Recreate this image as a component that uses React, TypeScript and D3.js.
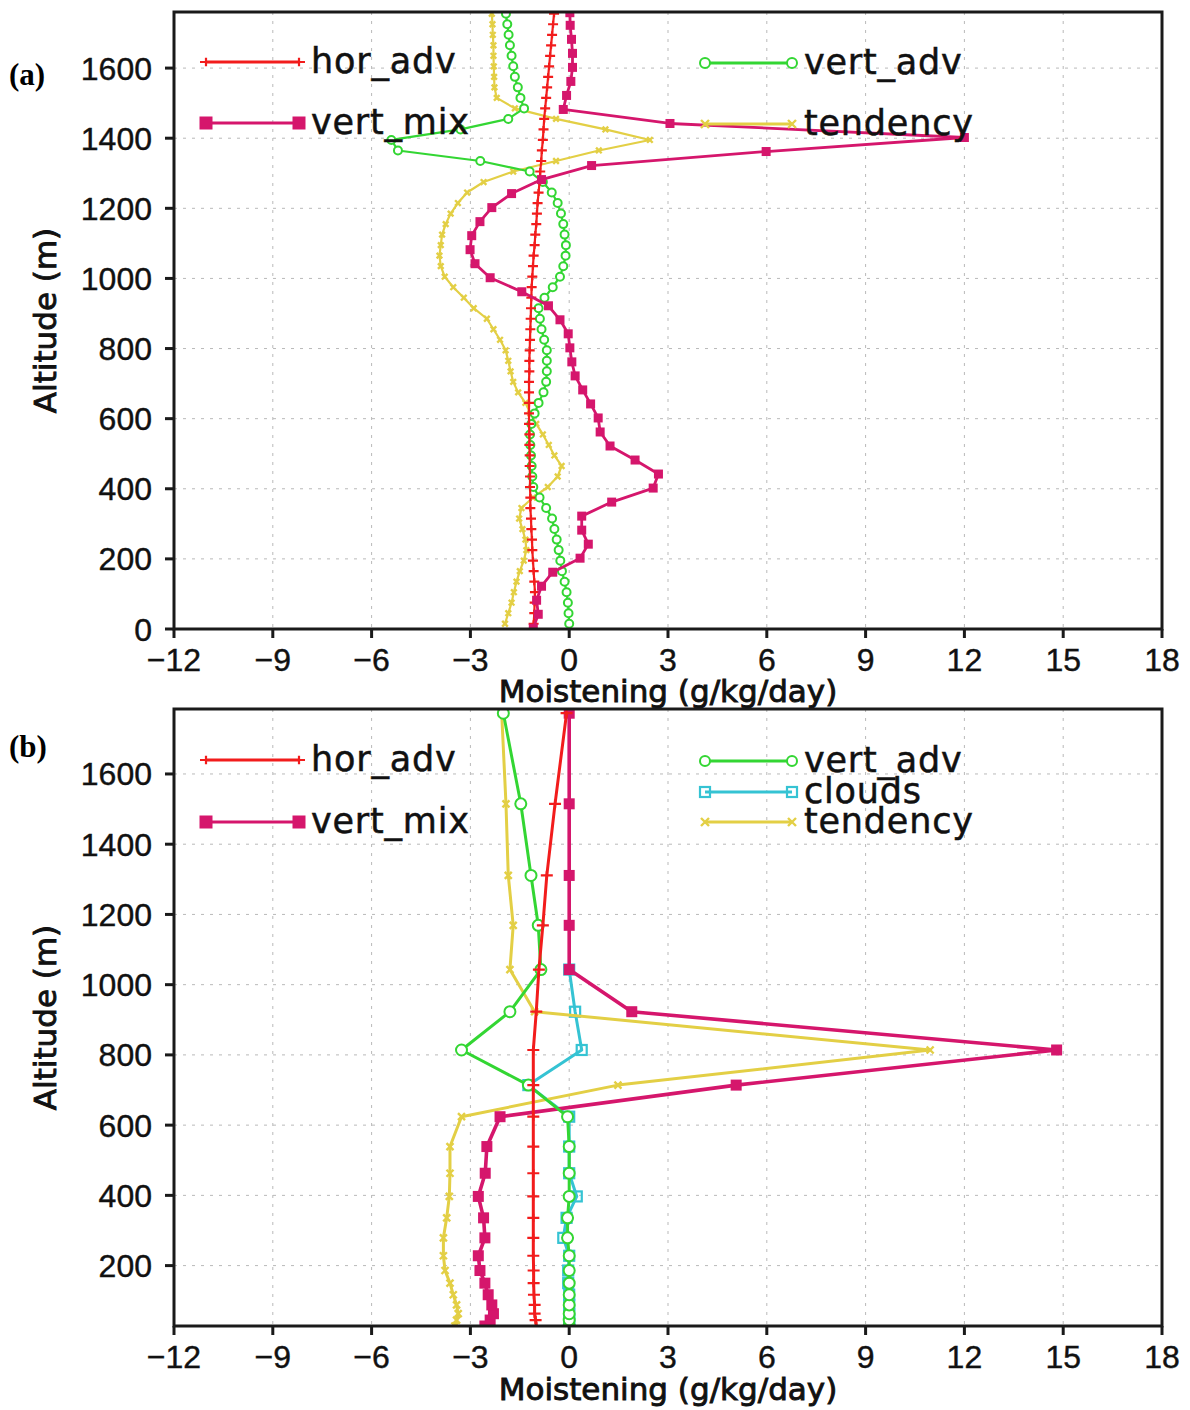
import { useEffect, useRef } from "react";
import * as d3 from "d3";

// ---------- data ----------
const xTicks = [-12, -9, -6, -3, 0, 3, 6, 9, 12, 15, 18];
const yTicksA = [0, 200, 400, 600, 800, 1000, 1200, 1400, 1600];
const yTicksB = [200, 400, 600, 800, 1000, 1200, 1400, 1600];

// panel (a): fine levels (hor_adv, vert_adv, tendency)
const altA = [
  15, 45, 75, 105, 135, 165, 195, 225, 255, 285, 315, 345, 375, 405, 435, 465, 495, 525, 555, 585,
  615, 645, 675, 705, 735, 765, 795, 825, 855, 885, 915, 945, 975, 1005, 1035, 1065, 1095, 1125,
  1155, 1185, 1215, 1245, 1275, 1305, 1335, 1365, 1395, 1425, 1455, 1485, 1515, 1545, 1575, 1605,
  1635, 1665, 1695, 1725, 1755,
];
const horAdvA = [
  -1.08, -1.06, -1.05, -1.04, -1.06, -1.08, -1.1, -1.12, -1.13, -1.15, -1.16, -1.18, -1.18, -1.19,
  -1.19, -1.2, -1.2, -1.21, -1.21, -1.22, -1.22, -1.22, -1.22, -1.22, -1.21, -1.21, -1.2, -1.19,
  -1.18, -1.17, -1.16, -1.15, -1.14, -1.12, -1.1, -1.08, -1.05, -1.03, -1.0, -0.98, -0.96, -0.93,
  -0.9, -0.88, -0.85, -0.83, -0.8, -0.78, -0.76, -0.73, -0.7, -0.67, -0.64, -0.61, -0.58, -0.55,
  -0.52, -0.49, -0.46,
];
const vertAdvA = [
  0.0, -0.02, -0.04, -0.08, -0.14, -0.22, -0.27, -0.32, -0.38, -0.45, -0.52, -0.7, -0.9, -1.09,
  -1.12, -1.14, -1.16, -1.18, -1.19, -1.15, -1.05, -0.93, -0.78, -0.7, -0.68, -0.68, -0.68, -0.76,
  -0.84, -0.89, -0.93, -0.75, -0.5, -0.28, -0.18, -0.11, -0.1, -0.14, -0.18, -0.25, -0.35, -0.53,
  -0.8, -1.2, -2.7, -5.2, -5.4, -3.3, -1.85, -1.37, -1.48, -1.56, -1.65, -1.7, -1.75, -1.8, -1.84,
  -1.88, -1.92,
];
const tendencyA = [
  -1.95, -1.85, -1.75, -1.68, -1.6, -1.5, -1.38, -1.3, -1.33, -1.42, -1.52, -1.45, -1.1, -0.65,
  -0.35, -0.23, -0.45, -0.62, -0.8, -1.0, -1.18, -1.33, -1.55, -1.7, -1.78, -1.85, -1.93, -2.1,
  -2.3, -2.5, -2.9, -3.2, -3.52, -3.78, -3.9, -3.94, -3.9, -3.86, -3.75, -3.6, -3.38, -3.1, -2.6,
  -1.7, -0.4, 0.9, 2.45, 1.1, -0.4, -1.65, -2.2, -2.27, -2.28, -2.29, -2.3, -2.3, -2.32, -2.33,
  -2.35,
];
// panel (a): vert_mix levels
const altMixA = [
  2, 42, 82, 122, 162, 202, 242, 282, 322, 362, 402, 442, 482, 522, 562, 602, 642, 682, 722, 762,
  802, 842, 882, 922, 962, 1002, 1042, 1082, 1122, 1162, 1202, 1242, 1282, 1322, 1362, 1402, 1442,
  1482, 1522, 1562, 1602, 1642, 1682, 1722, 1758,
];
const vertMixA = [
  -1.09, -0.94, -0.99, -0.84, -0.5, 0.33, 0.58, 0.38, 0.38, 1.29, 2.55, 2.71, 2.0, 1.24, 0.94,
  0.88, 0.65, 0.41, 0.18, 0.08, 0.02, -0.03, -0.28, -0.63, -1.44, -2.4, -2.86, -3.01, -2.96, -2.71,
  -2.35, -1.75, -0.84, 0.68, 5.98, 12.0, 3.06, -0.18, -0.08, 0.05, 0.1, 0.1, 0.07, 0.03, 0.02,
];

// panel (b)
const altB = [
  28, 45, 63, 88, 117, 150, 186, 228, 279, 336, 397, 463, 539, 624, 714, 814, 923, 1043, 1169,
  1311, 1515, 1773,
];
const horAdvB = [
  -1.0, -1.02, -1.05, -1.05, -1.07, -1.08, -1.08, -1.09, -1.09, -1.09, -1.09, -1.09, -1.09, -1.09,
  -1.09, -1.09, -1.0, -0.92, -0.8, -0.68, -0.43, -0.08,
];
const vertAdvB = [
  0.0, 0.0, 0.0, 0.0, 0.0, 0.0, 0.0, 0.0, -0.05, -0.05, 0.0, 0.0, 0.0, -0.05, -1.24, -3.27, -1.8,
  -0.86, -0.94, -1.16, -1.47, -2.0,
];
const cloudsB = [
  0.0, 0.0, 0.0, 0.0, 0.0, -0.03, -0.03, 0.0, -0.18, -0.08, 0.23, 0.0, 0.0, 0.0, -1.24, 0.38, 0.18,
  0.0, null, null, null, null,
];
const tendencyB = [
  -3.47, -3.42, -3.37, -3.42, -3.52, -3.62, -3.77, -3.82, -3.82, -3.72, -3.64, -3.62, -3.62, -3.27,
  1.48, 10.96, -1.05, -1.8, -1.7, -1.85, -1.92, -2.05,
];
const vertMixB = [
  -2.56, -2.4, -2.3, -2.35, -2.46, -2.56, -2.71, -2.76, -2.56, -2.6, -2.76, -2.55, -2.5, -2.1, 5.07,
  14.8, 1.9, 0.0, 0.0, 0.0, 0.0, 0.0,
];

const COLORS = {
  hor_adv: "#f21c1c",
  vert_adv: "#33d633",
  vert_mix: "#d5166c",
  tendency: "#e3cf45",
  clouds: "#35c3d3",
};

const fmt = (d) => (d < 0 ? `\u2212${Math.abs(d)}` : `${d}`);

const drawMarker = (g, kind, x, y, s, color) => {
  if (kind === "plus") {
    g.append("path")
      .attr("d", `M${x - s},${y}H${x + s}M${x},${y - s * 0.7}V${y + s * 0.7}`)
      .attr("stroke", color)
      .attr("stroke-width", 2.2);
  } else if (kind === "circle") {
    g.append("circle")
      .attr("cx", x)
      .attr("cy", y)
      .attr("r", s)
      .attr("fill", "white")
      .attr("stroke", color)
      .attr("stroke-width", 2);
  } else if (kind === "square") {
    g.append("rect")
      .attr("x", x - s)
      .attr("y", y - s)
      .attr("width", 2 * s)
      .attr("height", 2 * s)
      .attr("fill", color);
  } else if (kind === "osquare") {
    g.append("rect")
      .attr("x", x - s)
      .attr("y", y - s)
      .attr("width", 2 * s)
      .attr("height", 2 * s)
      .attr("fill", "none")
      .attr("stroke", color)
      .attr("stroke-width", 2.2);
  } else if (kind === "cross") {
    g.append("path")
      .attr("d", `M${x - s},${y - s}L${x + s},${y + s}M${x - s},${y + s}L${x + s},${y - s}`)
      .attr("stroke", color)
      .attr("stroke-width", 2.4);
  }
};

const App = () => {
  const ref = useRef(null);

  useEffect(() => {
    const svg = d3.select(ref.current);
    svg.selectAll("*").remove();

    const left = 174,
      right = 1162;
    const x = d3.scaleLinear().domain([-12, 18]).range([left, right]);

    const panels = [
      {
        id: "a",
        label: "(a)",
        labelY: 85,
        top: 12,
        bottom: 629,
        yDomain: [0, 1760],
        yTicks: yTicksA,
        titleY: 702,
        lw: 2.2,
        series: [
          { name: "tendency", marker: "cross", alts: altA, values: tendencyA, size: 2.8 },
          { name: "vert_adv", marker: "circle", alts: altA, values: vertAdvA, size: 4 },
          { name: "hor_adv", marker: "plus", alts: altA, values: horAdvA, size: 5 },
          { name: "vert_mix", marker: "square", alts: altMixA, values: vertMixA, size: 4.5 },
        ],
        legend: [
          { name: "hor_adv", x1: 206, x2: 299, y: 62, marker: "plus", size: 6 },
          { name: "vert_mix", x1: 206, x2: 299, y: 123, marker: "square", size: 6.5 },
          { name: "vert_adv", x1: 705, x2: 792, y: 63, marker: "circle", size: 5 },
          { name: "tendency", x1: 705, x2: 792, y: 124, marker: "cross", size: 4 },
        ],
      },
      {
        id: "b",
        label: "(b)",
        labelY: 757,
        top: 709,
        bottom: 1326,
        yDomain: [28, 1785],
        yTicks: yTicksB,
        titleY: 1400,
        lw: 3,
        series: [
          { name: "clouds", marker: "osquare", alts: altB, values: cloudsB, size: 5 },
          { name: "tendency", marker: "cross", alts: altB, values: tendencyB, size: 3.5 },
          { name: "vert_mix", marker: "square", alts: altB, values: vertMixB, size: 5.5 },
          { name: "vert_adv", marker: "circle", alts: altB, values: vertAdvB, size: 5.5 },
          { name: "hor_adv", marker: "plus", alts: altB, values: horAdvB, size: 6 },
        ],
        legend: [
          { name: "hor_adv", x1: 206, x2: 299, y: 760, marker: "plus", size: 6 },
          { name: "vert_mix", x1: 206, x2: 299, y: 822, marker: "square", size: 6.5 },
          { name: "vert_adv", x1: 705, x2: 792, y: 761, marker: "circle", size: 5 },
          { name: "clouds", x1: 705, x2: 792, y: 792, marker: "osquare", size: 5 },
          { name: "tendency", x1: 705, x2: 792, y: 822, marker: "cross", size: 4 },
        ],
      },
    ];

    panels.forEach((p) => {
      const y = d3.scaleLinear().domain(p.yDomain).range([p.bottom, p.top]);
      const g = svg.append("g");

      // clip
      g.append("clipPath")
        .attr("id", `clip-${p.id}`)
        .append("rect")
        .attr("x", left)
        .attr("y", p.top)
        .attr("width", right - left)
        .attr("height", p.bottom - p.top);

      // grid
      const grid = g.append("g").attr("stroke", "#b9b9b9").attr("stroke-width", 1).attr("stroke-dasharray", "3 6");
      xTicks.slice(1, -1).forEach((t) => {
        grid.append("line").attr("x1", x(t)).attr("x2", x(t)).attr("y1", p.top).attr("y2", p.bottom);
      });
      p.yTicks.forEach((t) => {
        if (y(t) > p.top + 2 && y(t) < p.bottom - 2)
          grid.append("line").attr("x1", left).attr("x2", right).attr("y1", y(t)).attr("y2", y(t));
      });

      // series
      const plot = g.append("g").attr("clip-path", `url(#clip-${p.id})`);
      p.series.forEach((s) => {
        const pts = s.alts.map((a, i) => ({ a, v: s.values[i] }));
        const line = d3
          .line()
          .defined((d) => d.v !== null && d.v !== undefined)
          .x((d) => x(d.v))
          .y((d) => y(d.a));
        plot.append("path")
          .attr("d", line(pts))
          .attr("fill", "none")
          .attr("stroke", COLORS[s.name])
          .attr("stroke-width", s.name === "vert_mix" ? p.lw + 0.6 : p.lw)
          .attr("stroke-linejoin", "round");
        const mg = plot.append("g");
        pts.filter((d) => d.v !== null && d.v !== undefined).forEach((d) => {
          drawMarker(mg, s.marker, x(d.v), y(d.a), s.size, COLORS[s.name]);
        });
      });

      // frame
      g.append("rect")
        .attr("x", left)
        .attr("y", p.top)
        .attr("width", right - left)
        .attr("height", p.bottom - p.top)
        .attr("fill", "none")
        .attr("stroke", "#1a1a1a")
        .attr("stroke-width", 3);

      // x axis ticks
      const ax = g.append("g").attr("font-family", "'Liberation Sans', Arial, sans-serif").attr("font-size", 32);
      xTicks.forEach((t) => {
        ax.append("line")
          .attr("x1", x(t)).attr("x2", x(t))
          .attr("y1", p.bottom).attr("y2", p.bottom + 9)
          .attr("stroke", "#1a1a1a").attr("stroke-width", 3);
        ax.append("text")
          .attr("x", x(t))
          .attr("y", p.bottom + 42)
          .attr("text-anchor", "middle")
          .attr("fill", "#111")
          .attr("stroke", "#111")
          .attr("stroke-width", 0.4)
          .text(fmt(t));
      });
      // y axis ticks
      p.yTicks.forEach((t) => {
        ax.append("line")
          .attr("x1", left - 9).attr("x2", left)
          .attr("y1", y(t)).attr("y2", y(t))
          .attr("stroke", "#1a1a1a").attr("stroke-width", 3);
        ax.append("text")
          .attr("x", left - 22)
          .attr("y", y(t) + 11.5)
          .attr("text-anchor", "end")
          .attr("fill", "#111")
          .attr("stroke", "#111")
          .attr("stroke-width", 0.4)
          .text(fmt(t));
      });

      // axis titles
      g.append("text")
        .attr("x", 668)
        .attr("y", p.titleY)
        .attr("text-anchor", "middle")
        .attr("font-family", "'DejaVu Sans', sans-serif")
        .attr("font-size", 31)
        .attr("fill", "#111")
        .attr("stroke", "#111")
        .attr("stroke-width", 0.9)
        .text("Moistening (g/kg/day)");
      g.append("text")
        .attr("transform", `translate(56,${(p.top + p.bottom) / 2}) rotate(-90)`)
        .attr("text-anchor", "middle")
        .attr("font-family", "'DejaVu Sans', sans-serif")
        .attr("font-size", 31)
        .attr("fill", "#111")
        .attr("stroke", "#111")
        .attr("stroke-width", 0.9)
        .text("Altitude (m)");

      // panel label
      g.append("text")
        .attr("x", 9)
        .attr("y", p.labelY)
        .attr("font-family", "'Liberation Serif', 'Times New Roman', serif")
        .attr("font-weight", "bold")
        .attr("font-size", 31)
        .attr("fill", "#000")
        .text(p.label);

      // legend
      const lg = g.append("g");
      p.legend.forEach((l) => {
        const c = COLORS[l.name];
        lg.append("line")
          .attr("x1", l.x1).attr("x2", l.x2)
          .attr("y1", l.y).attr("y2", l.y)
          .attr("stroke", c)
          .attr("stroke-width", 3);
        drawMarker(lg, l.marker, l.x1, l.y, l.size, c);
        drawMarker(lg, l.marker, l.x2, l.y, l.size, c);
        lg.append("text")
          .attr("x", l.x2 + 12)
          .attr("y", l.y + 11)
          .attr("font-family", "'DejaVu Sans', sans-serif")
          .attr("font-size", 35)
          .attr("letter-spacing", 0.8)
          .attr("fill", "#111")
          .attr("stroke", "#111")
          .attr("stroke-width", 0.5)
          .text(l.name);
      });
    });
  }, []);

  return (
    <div style={{ position: "absolute", left: 0, top: 0, background: "white" }}>
      <svg ref={ref} width={1190} height={1410} style={{ display: "block" }} />
    </div>
  );
};

export default App;
